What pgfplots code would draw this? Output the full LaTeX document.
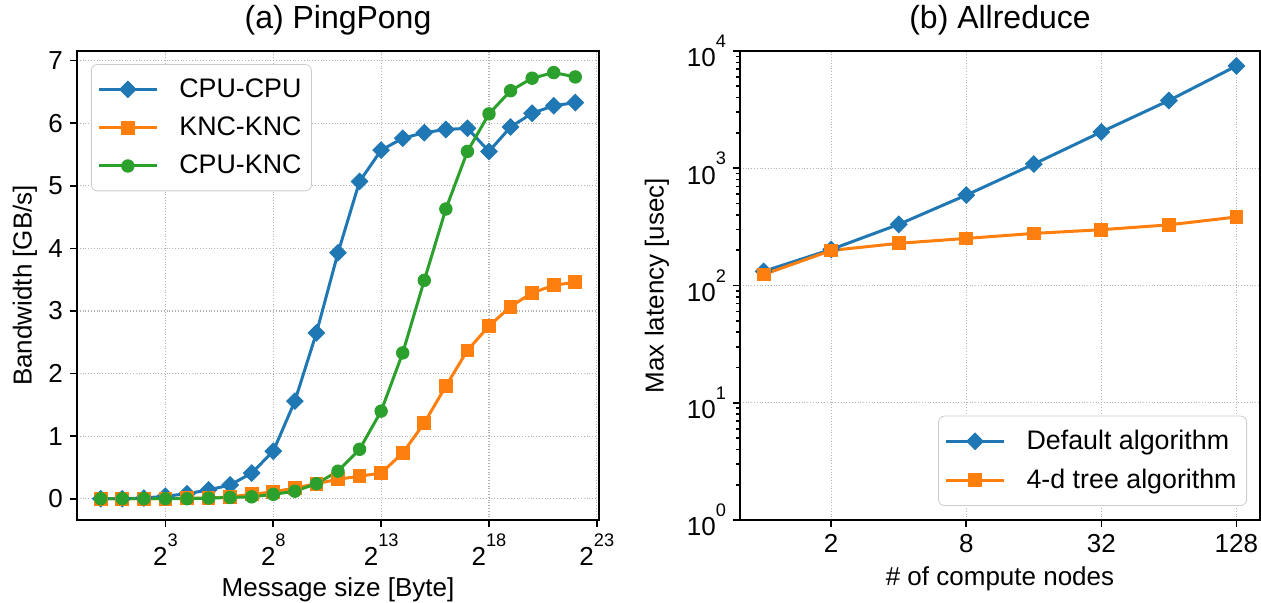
\documentclass[border=0pt]{standalone}
\usepackage{fontspec}
\setmainfont{Liberation Sans}
\usepackage{pgfplots}
\pgfplotsset{compat=1.18}
\definecolor{mplblue}{HTML}{1F77B4}
\definecolor{mplorange}{HTML}{FF7F0E}
\definecolor{mplgreen}{HTML}{2CA02C}
\newcommand{\pw}[2]{#1\raisebox{9.6pt}{\fontsize{9.1}{10}\selectfont #2}}
\pgfplotsset{
  mpl/.style={
    scale only axis,
    axis line style={line width=0.8pt},
    every tick/.style={black, line width=0.8pt},
    tick align=outside, major tick length=3.5pt, minor tick length=2pt,
    xtick pos=bottom, ytick pos=left,
    xmajorgrids, ymajorgrids,
    grid style={densely dotted, black!30, line width=0.6pt},
    tick label style={font=\fontsize{13}{15}\selectfont},
    label style={font=\fontsize{13}{15}\selectfont},
    title style={font=\fontsize{16}{19}\selectfont, at={(0.5,1)}, anchor=base, yshift=5pt},
    /pgf/number format/assume math mode=true,
    legend cell align=left,
    legend style={font=\fontsize{13.4}{15}\selectfont, draw=black!20, rounded corners=3pt,
      fill=white, text opacity=1, inner xsep=3pt, inner ysep=5pt,
      row sep=4.3pt, /tikz/every odd column/.append style={column sep=8.5pt}},
    legend image code/.code={\draw[mark repeat=2, mark phase=2] plot coordinates {(0pt,0pt) (14.5pt,0pt) (29pt,0pt)};},
  },
  sblue/.style={color=mplblue, line width=1.5pt, mark=square*, mark size=2.9pt, mark options={solid, rotate=45, fill=mplblue, line width=0.5pt}},
  sorange/.style={color=mplorange, line width=1.5pt, mark=square*, mark size=3.2pt, mark options={solid, fill=mplorange, line width=0.5pt}},
  sgreen/.style={color=mplgreen, line width=1.5pt, mark=*, mark size=3.1pt, mark options={solid, fill=mplgreen, line width=0.5pt}},
}
\begin{document}
\begin{tikzpicture}
\useasboundingbox (0,0) rectangle (630.5pt,301.5pt);
\begin{axis}[mpl,
  at={(38.5pt,41.5pt)}, anchor=south west,
  width=261pt, height=234.5pt,
  title={(a) PingPong},
  xmode=log, log basis x=2,
  xmin=0.4665, xmax=8990645,
  ymin=-0.34, ymax=7.155,
  xtick={8,256,8192,262144,8388608},
  xticklabels={\pw{2}{3},\pw{2}{8},\pw{2}{13},\pw{2}{18},\pw{2}{23}},
  minor xtick={},
  ytick={0,1,2,3,4,5,6,7},
  xlabel={Message size [Byte]},
  ylabel={Bandwidth [GB/s]},
  xlabel style={at={(axis description cs:0.5,-0.164)}, anchor=base},
  ylabel style={at={(axis description cs:-0.0996,0.5)}, anchor=center},
  legend style={at={(0.0268,0.972)}, anchor=north west},
]
\addplot[sblue] coordinates {
(1,0.0) (2,0.0) (4,0.01) (8,0.04) (16,0.08) (32,0.14) (64,0.22) (128,0.41)
(256,0.76) (512,1.56) (1024,2.65) (2048,3.93) (4096,5.07) (8192,5.57)
(16384,5.76) (32768,5.85) (65536,5.9) (131072,5.92) (262144,5.55)
(524288,5.94) (1048576,6.16) (2097152,6.28) (4194304,6.33)};
\addlegendentry{CPU-CPU\hspace{3pt}}
\addplot[sorange] coordinates {
(1,0.0) (2,0.0) (4,0.0) (8,0.0) (16,0.01) (32,0.01) (64,0.03) (128,0.07)
(256,0.11) (512,0.17) (1024,0.24) (2048,0.31) (4096,0.36) (8192,0.41)
(16384,0.73) (32768,1.21) (65536,1.8) (131072,2.37) (262144,2.76)
(524288,3.07) (1048576,3.29) (2097152,3.41) (4194304,3.46)};
\addlegendentry{KNC-KNC}
\addplot[sgreen] coordinates {
(1,0.0) (2,0.0) (4,0.0) (8,0.0) (16,0.0) (32,0.01) (64,0.02) (128,0.03)
(256,0.07) (512,0.12) (1024,0.24) (2048,0.44) (4096,0.79) (8192,1.4)
(16384,2.33) (32768,3.49) (65536,4.63) (131072,5.55) (262144,6.15)
(524288,6.52) (1048576,6.72) (2097152,6.81) (4194304,6.74)};
\addlegendentry{CPU-KNC}
\end{axis}
\begin{axis}[mpl,
  at={(370pt,41.5pt)}, anchor=south west,
  width=260pt, height=234.5pt,
  title={(b) Allreduce},
  xmode=log, log basis x=2, ymode=log,
  xmin=0.7846, xmax=163.1,
  ymin=1, ymax=10000,
  xtick={2,8,32,128},
  xticklabels={2,8,32,128},
  minor xtick={},
  ytick={1,10,100,1000,10000},
  minor ytick={2,3,4,5,6,7,8,9,20,30,40,50,60,70,80,90,200,300,400,500,600,700,800,900,2000,3000,4000,5000,6000,7000,8000,9000},
  yticklabels={\pw{10}{0},\pw{10}{1},\pw{10}{2},\pw{10}{3},\pw{10}{4}},
  xlabel={\# of compute nodes},
  ylabel={Max latency [usec]},
  xlabel style={at={(axis description cs:0.5,-0.14)}, anchor=base},
  ylabel style={at={(axis description cs:-0.16,0.5)}, anchor=center},
  legend style={at={(0.975,0.030)}, anchor=south east},
]
\addplot[sblue] coordinates {
(1,132) (2,203) (4,332) (8,590) (16,1085) (32,2040) (64,3780) (128,7450)};
\addlegendentry{Default algorithm}
\addplot[sorange] coordinates {
(1,124) (2,199) (4,229) (8,252) (16,278) (32,299) (64,329) (128,384)};
\addlegendentry{4-d tree algorithm\hspace{3pt}}
\end{axis}
\end{tikzpicture}
\end{document}
